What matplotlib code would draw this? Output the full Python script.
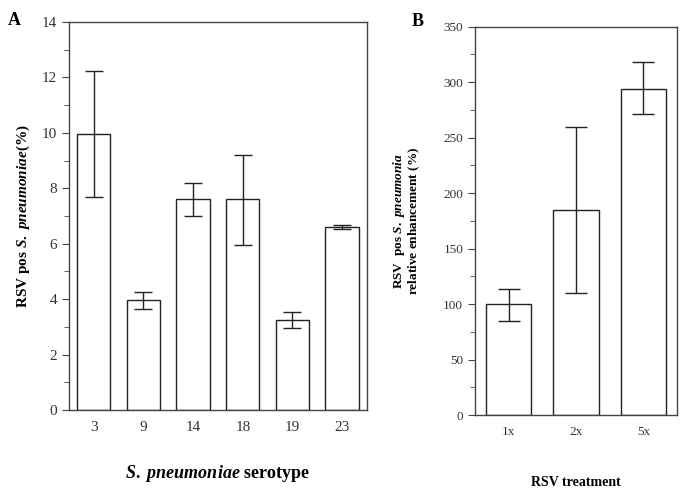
import matplotlib
matplotlib.use("Agg")
import matplotlib.pyplot as plt
from matplotlib.ticker import MultipleLocator

plt.rcParams['font.family'] = 'Liberation Serif'
plt.rcParams['mathtext.fontset'] = 'custom'
plt.rcParams['mathtext.rm'] = 'Liberation Serif:bold'
plt.rcParams['mathtext.bf'] = 'Liberation Serif:bold'
plt.rcParams['mathtext.it'] = 'Liberation Serif:italic:bold'

# ---- panel A data ----
serotypes = ['3', '9', '14', '18', '19', '23']
rsv_pos = [9.95, 3.95, 7.6, 7.6, 3.25, 6.6]
err_hi_a = [12.22, 4.25, 8.18, 9.2, 3.55, 6.68]
err_lo_a = [7.67, 3.65, 6.98, 5.95, 2.95, 6.52]

# ---- panel B data ----
treatments = ['1x', '2x', '5x']
enhance = [100, 185, 294]
err_hi_b = [114, 260, 318]
err_lo_b = [85, 110, 271]

edge = '#222222'

fig = plt.figure(figsize=(6.85, 4.9), dpi=100)
axA = fig.add_axes([0.1007, 0.1633, 0.435, 0.792])
axB = fig.add_axes([0.6934, 0.153, 0.2949, 0.7925])


def panel(ax, labels, vals, hi, lo, capsize):
    x = range(len(vals))
    yerr = [[v - l for v, l in zip(vals, lo)], [h - v for v, h in zip(vals, hi)]]
    ax.bar(x, vals, width=0.67, color='white', edgecolor=edge, linewidth=1.0,
           yerr=yerr, error_kw=dict(ecolor=edge, elinewidth=1.0, capsize=capsize, capthick=1.0))
    ax.set_xticks(list(x))
    ax.set_xticklabels(labels)
    ax.set_xlim(-0.5, len(vals) - 0.5)
    for s in ax.spines.values():
        s.set_color('#444444')
        s.set_linewidth(1.0)
    ax.tick_params(axis='x', length=0)
    ax.tick_params(axis='y', which='both', direction='out', color='#444444')
    ax.tick_params(axis='y', which='major', length=5)
    ax.tick_params(axis='y', which='minor', length=3.5)


panel(axA, serotypes, rsv_pos, err_hi_a, err_lo_a, 6.8)
axA.set_ylim(0, 14)
axA.yaxis.set_major_locator(MultipleLocator(2))
axA.yaxis.set_minor_locator(MultipleLocator(1))
axA.tick_params(axis='both', labelsize=11, labelcolor='#333333')
axA.tick_params(axis='x', pad=8)
axA.set_ylabel(r'$\mathbf{RSV\ pos\ }\mathit{S.\ pneumoniae}\mathbf{(\%)}$', fontsize=11, labelpad=7)
axA.set_xlabel(r'$\mathit{S.\ pneumoniae}\mathbf{\ serotype}$', fontsize=13, labelpad=21)

panel(axB, treatments, enhance, err_hi_b, err_lo_b, 8)
axB.set_ylim(0, 350)
axB.yaxis.set_major_locator(MultipleLocator(50))
axB.yaxis.set_minor_locator(MultipleLocator(25))
axB.tick_params(axis='both', labelsize=9.5, labelcolor='#333333')
axB.tick_params(axis='x', pad=8)
axB.set_ylabel('$\\mathbf{RSV\\ \\ pos\\ }\\mathit{S.\\ pneumonia}$\n$\\mathbf{relative\\ enhancement\\ (\\%)}$',
               fontsize=9.5, labelpad=15, linespacing=0.95)
axB.set_xlabel('RSV treatment', fontsize=10, fontweight='bold', labelpad=27)

fig.text(0.011, 0.975, 'A', fontsize=13, fontweight='bold', va='top')
fig.text(0.601, 0.973, 'B', fontsize=13, fontweight='bold', va='top')

fig.savefig('out.png', dpi=100)
